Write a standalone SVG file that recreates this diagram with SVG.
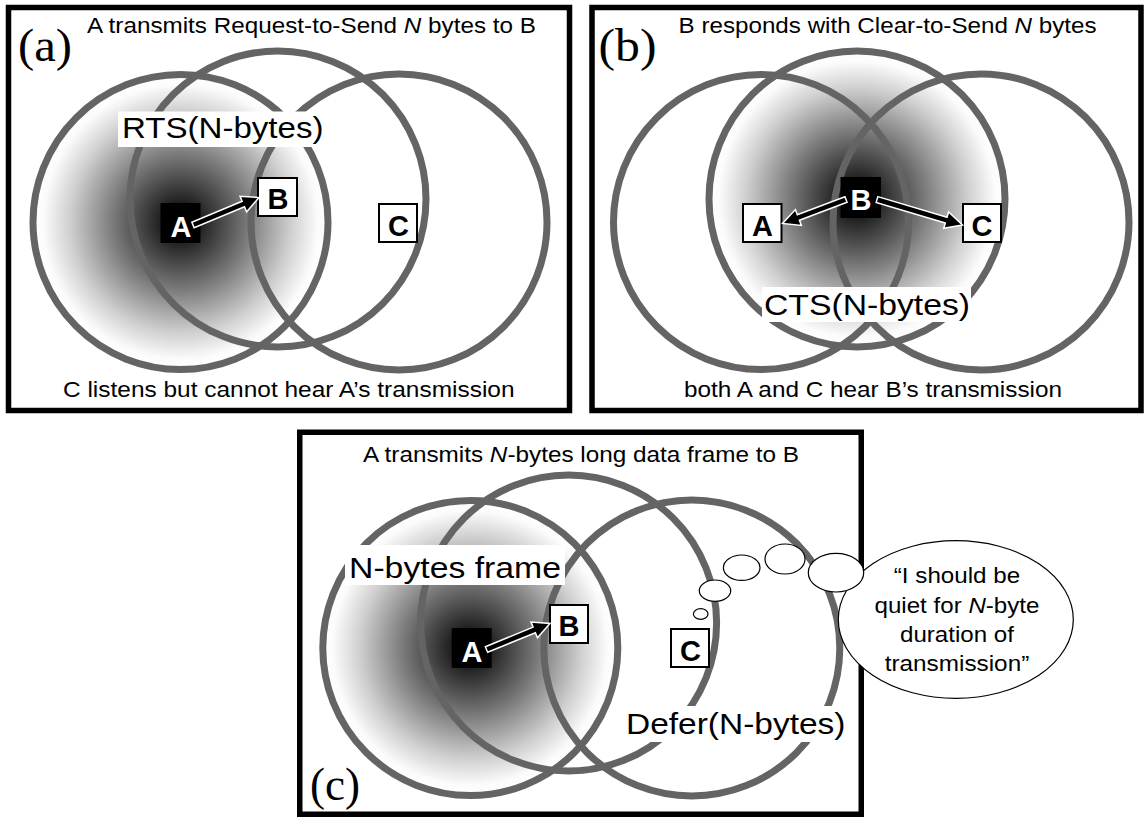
<svg xmlns="http://www.w3.org/2000/svg" width="1145" height="818" viewBox="0 0 1145 818">
<defs>
<radialGradient id="glow">
<stop offset="0" stop-color="#000"/>
<stop offset="0.12" stop-color="#1c1c1c"/>
<stop offset="0.45" stop-color="#787878"/>
<stop offset="0.75" stop-color="#cfcfcf"/>
<stop offset="0.93" stop-color="#fbfbfb"/>
<stop offset="1" stop-color="#fff"/>
</radialGradient>
<style>
.frame{fill:none;stroke:#000;stroke-width:5.5}
.ring{fill:none;stroke:#646464;stroke-width:7}
.glow{fill:url(#glow);stroke:none}
.t{font-family:"Liberation Sans",Arial,sans-serif;font-size:21.5px;fill:#000}
.big{font-family:"Liberation Sans",Arial,sans-serif;font-size:30px;fill:#000}
.tag{font-family:"Liberation Serif","Times New Roman",serif;font-size:46px;fill:#000}
.bx{fill:#fff;stroke:#000;stroke-width:2}
.bk{fill:#000;stroke:none}
.lw{font-family:"Liberation Sans",Arial,sans-serif;font-weight:bold;font-size:29px;text-anchor:middle;fill:#000}
.lw.inv{fill:#fff}
.lbg{fill:#fff;stroke:none}
.arrow{fill:#000;stroke:#fff;stroke-width:1.5;stroke-linejoin:miter}
.bub{fill:#fff;stroke:#000;stroke-width:1.2}
.mid{text-anchor:middle}
</style>
</defs>
<rect width="1145" height="818" fill="#fff"/>

<!-- Panel (a) -->
<g id="panel-a">
<rect class="frame" x="8.5" y="7.5" width="561" height="403"/>
<g id="a-ranges">
<circle class="glow" cx="180.5" cy="222" r="147.5"/>
<circle class="ring" cx="180.5" cy="222" r="147.5"/>
<circle class="ring" cx="278" cy="199" r="148"/>
<circle class="ring" cx="399" cy="222" r="148"/>
</g>
<g id="a-rts">
<rect class="lbg" x="118" y="111.5" width="207.5" height="35.5"/>
<text class="big" x="122" y="138" textLength="201.5" lengthAdjust="spacingAndGlyphs">RTS(N-bytes)</text>
</g>
<g id="a-node-A">
<rect class="bk" x="160.5" y="203" width="40" height="40"/>
<text class="lw inv" x="181" y="236.5">A</text>
</g>
<g id="a-node-B">
<rect class="bx" x="258" y="178" width="39" height="38"/>
<text class="lw" x="278" y="209">B</text>
</g>
<g id="a-node-C">
<rect class="bx" x="379" y="204" width="38" height="38"/>
<text class="lw" x="398.5" y="235.5">C</text>
</g>
<text class="tag" x="18" y="61" textLength="54" lengthAdjust="spacingAndGlyphs">(a)</text>
<text class="t" x="87" y="33" textLength="449" lengthAdjust="spacingAndGlyphs">A transmits Request-to-Send <tspan font-style="italic">N</tspan> bytes to B</text>
<text class="t" x="63" y="397" textLength="451.5" lengthAdjust="spacingAndGlyphs">C listens but cannot hear A’s transmission</text>
</g>

<!-- Panel (b) -->
<g id="panel-b">
<rect class="frame" x="592" y="7.5" width="549" height="403"/>
<g id="b-ranges">
<circle class="glow" cx="857" cy="199" r="148"/>
<circle class="ring" cx="761" cy="222" r="147.5"/>
<circle class="ring" cx="857" cy="199" r="148"/>
<circle class="ring" cx="981" cy="222" r="148"/>
</g>
<g id="b-cts">
<rect class="lbg" x="762" y="287" width="209" height="35"/>
<text class="big" x="764" y="315" textLength="206" lengthAdjust="spacingAndGlyphs">CTS(N-bytes)</text>
</g>
<g id="b-node-B">
<rect class="bk" x="840.5" y="177" width="40.5" height="41"/>
<text class="lw inv" x="861" y="209.5">B</text>
</g>
<g id="b-node-A">
<rect class="bx" x="743" y="204" width="38.5" height="38"/>
<text class="lw" x="762.5" y="236">A</text>
</g>
<g id="b-node-C">
<rect class="bx" x="963" y="204" width="38" height="38"/>
<text class="lw" x="982" y="235.5">C</text>
</g>
<text class="tag" x="598.5" y="61" textLength="58" lengthAdjust="spacingAndGlyphs">(b)</text>
<text class="t" x="678.6" y="33" textLength="418" lengthAdjust="spacingAndGlyphs">B responds with Clear-to-Send <tspan font-style="italic">N</tspan> bytes</text>
<text class="t" x="684" y="397" textLength="378" lengthAdjust="spacingAndGlyphs">both A and C hear B’s transmission</text>
</g>

<!-- Panel (c) -->
<g id="panel-c">
<rect class="frame" x="299.75" y="432.25" width="561.5" height="382"/>
<g id="c-ranges">
<circle class="glow" cx="470.3" cy="648" r="147.5"/>
<circle class="ring" cx="470.3" cy="648" r="147.5"/>
<circle class="ring" cx="568.6" cy="623" r="148"/>
<circle class="ring" cx="691.8" cy="648" r="148"/>
</g>
<g id="c-frame-label">
<rect class="lbg" x="345" y="545" width="220" height="40"/>
<text class="big" x="349" y="578" textLength="212" lengthAdjust="spacingAndGlyphs">N-bytes frame</text>
</g>
<g id="c-defer">
<rect class="lbg" x="622" y="706" width="226" height="36"/>
<text class="big" x="626" y="733.5" textLength="219.5" lengthAdjust="spacingAndGlyphs">Defer(N-bytes)</text>
</g>
<g id="c-node-A">
<rect class="bk" x="451.7" y="628" width="40" height="40"/>
<text class="lw inv" x="472" y="661.5">A</text>
</g>
<g id="c-node-B">
<rect class="bx" x="550" y="605" width="38" height="38"/>
<text class="lw" x="569" y="636">B</text>
</g>
<g id="c-node-C">
<rect class="bx" x="671" y="629" width="38" height="38"/>
<text class="lw" x="690.5" y="660.5">C</text>
</g>
<g id="c-thought">
<ellipse class="bub" cx="955.8" cy="619.5" rx="117.5" ry="78.8"/>
<ellipse class="bub" cx="700.7" cy="614" rx="7.3" ry="5.3"/>
<ellipse class="bub" cx="715" cy="590.7" rx="15.7" ry="10.7"/>
<ellipse class="bub" cx="741.7" cy="567.7" rx="18.3" ry="12.7"/>
<ellipse class="bub" cx="785" cy="559" rx="20" ry="15"/>
<ellipse class="bub" cx="836" cy="572.7" rx="27.7" ry="19.3"/>
<text class="t mid" x="957" y="583.3" textLength="126.4" lengthAdjust="spacingAndGlyphs">“I should be</text>
<text class="t mid" x="957" y="612.7" textLength="165" lengthAdjust="spacingAndGlyphs">quiet for <tspan font-style="italic">N</tspan>-byte</text>
<text class="t mid" x="957" y="641.7" textLength="114" lengthAdjust="spacingAndGlyphs">duration of</text>
<text class="t mid" x="957" y="670.7" textLength="144.5" lengthAdjust="spacingAndGlyphs">transmission”</text>
</g>
<text class="tag" x="310" y="800" textLength="50" lengthAdjust="spacingAndGlyphs">(c)</text>
<text class="t" x="363" y="462" textLength="436" lengthAdjust="spacingAndGlyphs">A transmits <tspan font-style="italic">N</tspan>-bytes long data frame to B</text>
</g>

<!-- Connectors -->
<g id="connectors">
<polygon class="arrow" transform="translate(193,225) rotate(-22.6)" points="0,-3 54.5,-3 54.5,-8.5 71.5,0 54.5,8.5 54.5,3 0,3"/>
<polygon class="arrow" transform="translate(846,199.5) rotate(159.3)" points="0,-3 50.9,-3 50.9,-8.5 67.9,0 50.9,8.5 50.9,3 0,3"/>
<polygon class="arrow" transform="translate(877,199.5) rotate(16.6)" points="0,-3 72.2,-3 72.2,-8.5 89.2,0 72.2,8.5 72.2,3 0,3"/>
<polygon class="arrow" transform="translate(486.5,649.5) rotate(-22.3)" points="0,-3 51.6,-3 51.6,-8.5 68.6,0 51.6,8.5 51.6,3 0,3"/>
</g>
</svg>
